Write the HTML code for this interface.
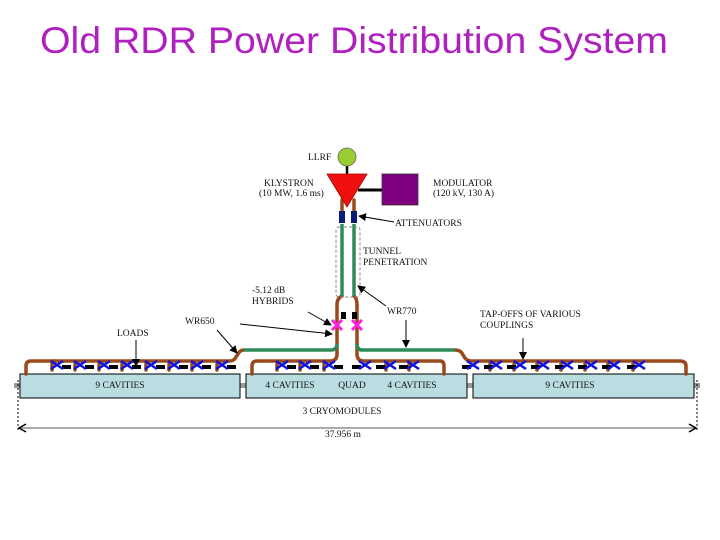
<!DOCTYPE html>
<html><head><meta charset="utf-8"><style>
html,body{margin:0;padding:0;background:#fff;width:720px;height:540px;overflow:hidden}
svg text{font-family:"Liberation Serif",serif}
</style></head><body>
<svg width="720" height="540" viewBox="0 0 720 540" xmlns="http://www.w3.org/2000/svg">
<defs>
<marker id="ah" markerWidth="8" markerHeight="8" refX="7" refY="4" orient="auto" markerUnits="userSpaceOnUse"><path d="M0,0 L8,4 L0,8 z" fill="#000"/></marker>
</defs>
<text x="40" y="53" font-size="37" fill="#b020c0" textLength="628" lengthAdjust="spacingAndGlyphs" style="font-family:'Liberation Sans',sans-serif">Old RDR Power Distribution System</text>

<g fill="#999"><rect x="14" y="383" width="6" height="5"/><rect x="240" y="383" width="6" height="5"/><rect x="467" y="383" width="6" height="5"/><rect x="694" y="383" width="6" height="5"/></g>
<g fill="#b9dde1" stroke="#000" stroke-width="1">
<rect x="20" y="374" width="220" height="24"/>
<rect x="246" y="374" width="221" height="24"/>
<rect x="473" y="374" width="221" height="24"/>
</g>
<g font-size="9.5" text-anchor="middle" fill="#111">
<text x="120" y="388">9 CAVITIES</text>
<text x="290" y="388">4 CAVITIES</text>
<text x="352" y="388">QUAD</text>
<text x="412" y="388">4 CAVITIES</text>
<text x="570" y="388">9 CAVITIES</text>
<text x="342" y="414">3 CRYOMODULES</text>
<text x="343" y="437">37.956 m</text>
</g>
<line x1="18" y1="380" x2="18" y2="432" stroke="#000" stroke-dasharray="2,2"/>
<line x1="697" y1="380" x2="697" y2="432" stroke="#000" stroke-dasharray="2,2"/>
<line x1="20" y1="428" x2="695" y2="428" stroke="#aaa" stroke-width="2"/>
<path d="M26,424 L19,428 L26,432" fill="none" stroke="#000" stroke-width="1.5"/>
<path d="M689,424 L696,428 L689,432" fill="none" stroke="#000" stroke-width="1.5"/>

<g fill="none" stroke="#9a4a1a" stroke-width="3.5" stroke-linejoin="round" stroke-linecap="round">
<path d="M26,374 V366 Q26,361 31,361 H230 Q234,361 236,357 L238,354 Q240,350 244,350"/>
<path d="M52,370 V364 Q52,361 55,361"/>
<path d="M75,370 V364"/><path d="M99,370 V364"/><path d="M122,370 V364"/><path d="M146,370 V364"/><path d="M169,370 V364"/><path d="M192,370 V364"/><path d="M217,370 V364"/>
<path d="M252,374 V366 Q252,361 257,361 H330 Q337,361 337,354 V305"/>
<path d="M357,305 V354 Q357,361 364,361 H440 Q444,361 444,366 V374"/>
<path d="M277,370 V364"/><path d="M300,370 V364"/><path d="M324,370 V364"/>
<path d="M386,370 V364"/><path d="M409,370 V364"/>
<path d="M337,305 Q337,298 342,296"/><path d="M357,305 Q357,298 354,296"/>
<path d="M455,350 Q461,350 463,355 L465,358 Q467,361 472,361 H680 Q686,361 686,366 V374"/>
<path d="M490,370 V364"/><path d="M514,370 V364"/><path d="M537,370 V364"/><path d="M561,370 V364"/><path d="M585,370 V364"/><path d="M608,370 V364"/><path d="M633,370 V364"/>
<path d="M342,200 V212"/><path d="M354,200 V212"/>
</g>
<g fill="none" stroke="#2e8b57" stroke-width="3.5">
<line x1="244" y1="350" x2="331" y2="350"/>
<path d="M331,350 Q337,350 337,344"/>
<line x1="362" y1="350" x2="455" y2="350"/>
<path d="M357,344 Q357,350 362,350"/>
<line x1="342" y1="224" x2="342" y2="296"/>
<line x1="354" y1="224" x2="354" y2="296"/>
</g>
<rect x="336" y="227" width="24" height="70" rx="3" fill="none" stroke="#888" stroke-dasharray="3,2"/>

<g fill="#000">
<rect x="62" y="365" width="9" height="4"/><rect x="85" y="365" width="9" height="4"/><rect x="109" y="365" width="9" height="4"/><rect x="132" y="365" width="9" height="4"/><rect x="156" y="365" width="9" height="4"/><rect x="179" y="365" width="9" height="4"/><rect x="202" y="365" width="9" height="4"/><rect x="227" y="365" width="9" height="4"/>
<rect x="287" y="365" width="9" height="4"/><rect x="310" y="365" width="9" height="4"/><rect x="334" y="365" width="9" height="4"/>
<rect x="352" y="365" width="9" height="4"/><rect x="376" y="365" width="9" height="4"/><rect x="399" y="365" width="9" height="4"/>
<rect x="462" y="365" width="9" height="4"/><rect x="484" y="365" width="9" height="4"/><rect x="507" y="365" width="9" height="4"/><rect x="531" y="365" width="9" height="4"/><rect x="555" y="365" width="9" height="4"/><rect x="578" y="365" width="9" height="4"/><rect x="602" y="365" width="9" height="4"/><rect x="627" y="365" width="9" height="4"/>
<rect x="341" y="312" width="5" height="7"/><rect x="352" y="312" width="5" height="7"/>
</g>
<g stroke="#1010e0" stroke-width="2.5">
<path d="M51,361 l12,8 M51,369 l12,-8"/><path d="M74,361 l12,8 M74,369 l12,-8"/><path d="M98,361 l12,8 M98,369 l12,-8"/><path d="M121,361 l12,8 M121,369 l12,-8"/><path d="M145,361 l12,8 M145,369 l12,-8"/><path d="M168,361 l12,8 M168,369 l12,-8"/><path d="M191,361 l12,8 M191,369 l12,-8"/><path d="M216,361 l12,8 M216,369 l12,-8"/>
<path d="M276,361 l12,8 M276,369 l12,-8"/><path d="M299,361 l12,8 M299,369 l12,-8"/><path d="M323,361 l12,8 M323,369 l12,-8"/>
<path d="M359,361 l12,8 M359,369 l12,-8"/><path d="M384,361 l12,8 M384,369 l12,-8"/><path d="M407,361 l12,8 M407,369 l12,-8"/>
<path d="M467,361 l12,8 M467,369 l12,-8"/><path d="M490,361 l12,8 M490,369 l12,-8"/><path d="M514,361 l12,8 M514,369 l12,-8"/><path d="M537,361 l12,8 M537,369 l12,-8"/><path d="M561,361 l12,8 M561,369 l12,-8"/><path d="M585,361 l12,8 M585,369 l12,-8"/><path d="M608,361 l12,8 M608,369 l12,-8"/><path d="M633,361 l12,8 M633,369 l12,-8"/>
</g>
<g stroke="#ff20e0" stroke-width="3">
<path d="M332,320 l10,10 M332,330 l10,-10"/><path d="M352,320 l10,10 M352,330 l10,-10"/>
</g>

<line x1="347" y1="165" x2="347" y2="175" stroke="#000" stroke-width="2.5"/>
<circle cx="347" cy="157" r="9" fill="#9acd32" stroke="#666" stroke-width="0.8"/>
<line x1="358" y1="190" x2="382" y2="190" stroke="#000" stroke-width="3"/>
<polygon points="327,174 367,174 347,207" fill="#f01010" stroke="#a00" stroke-width="0.8"/>
<rect x="382" y="174" width="36" height="31" fill="#800080" stroke="#333" stroke-width="0.8"/>
<rect x="339" y="211" width="6" height="12" fill="#0a1a7a"/>
<rect x="351" y="211" width="6" height="12" fill="#0a1a7a"/>

<g font-size="9.5" fill="#111">
<text x="308" y="160">LLRF</text>
<text x="264" y="186">KLYSTRON</text>
<text x="259" y="196">(10 MW, 1.6 ms)</text>
<text x="433" y="186">MODULATOR</text>
<text x="433" y="196">(120 kV, 130 A)</text>
<text x="395" y="226">ATTENUATORS</text>
<text x="363" y="254">TUNNEL</text>
<text x="363" y="265">PENETRATION</text>
<text x="252" y="293">-5.12 dB</text>
<text x="252" y="304">HYBRIDS</text>
<text x="387" y="314">WR770</text>
<text x="185" y="324">WR650</text>
<text x="117" y="336">LOADS</text>
<text x="480" y="317">TAP-OFFS OF VARIOUS</text>
<text x="480" y="328">COUPLINGS</text>
</g>
<g stroke="#000" stroke-width="1" marker-end="url(#ah)">
<line x1="394" y1="222" x2="359" y2="216"/>
<line x1="386" y1="306" x2="358" y2="286"/>
<line x1="308" y1="312" x2="331" y2="325"/>
<line x1="240" y1="324" x2="332" y2="334"/>
<line x1="217" y1="330" x2="237" y2="353"/>
<line x1="136" y1="340" x2="136" y2="366"/>
<line x1="406" y1="320" x2="406" y2="347"/>
<line x1="523" y1="338" x2="523" y2="359"/>
</g>
</svg>
</body></html>
